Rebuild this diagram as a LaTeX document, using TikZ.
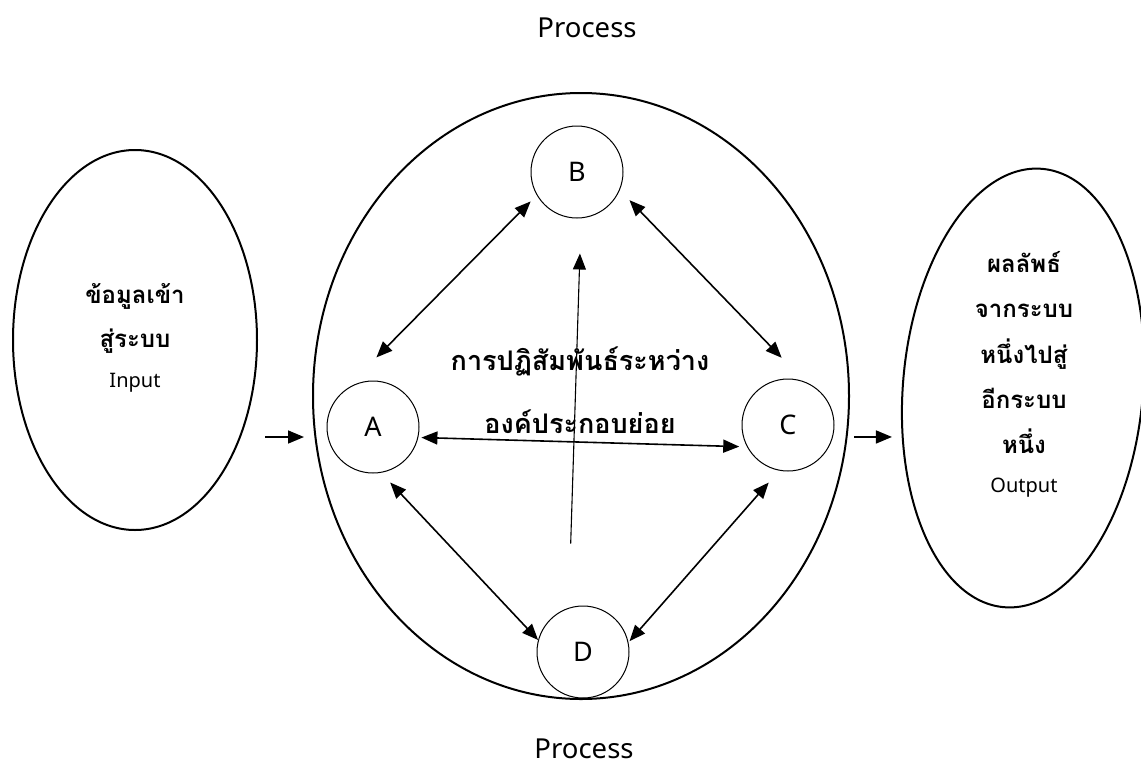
\documentclass[tikz,border=0pt]{standalone}
\usepackage{fontspec}
\setmainfont{Noto Sans}
\newfontfamily\thaifont[Script=Thai]{Loma}
\usetikzlibrary{arrows.meta,shapes.geometric,calc}

\begin{document}
\begin{tikzpicture}[x=1pt,y=-1pt,
        >={Triangle[length=16pt,width=13pt]},
        big/.style={draw,ellipse,line width=2pt,inner sep=0pt},
        part/.style={draw,circle,line width=1pt,minimum size=92pt,inner sep=0pt,
            font=\fontsize{27}{30}\selectfont},
        link/.style={line width=1.6pt},
        thaiside/.style={anchor=base,font=\thaifont\bfseries\fontsize{24}{28}\selectfont},
        thaimid/.style={anchor=base,font=\thaifont\bfseries\fontsize{27}{31}\selectfont},
        eng/.style={anchor=base,font=\fontsize{20}{24}\selectfont},
        title/.style={anchor=base,font=\fontsize{27.5}{32}\selectfont}]
        \useasboundingbox (0,0) rectangle (1141,764);

        % the three systems
        \node[big,minimum width=244pt,minimum height=380pt] (inp) at (135,340) {};
        \node[big,minimum width=536pt,minimum height=606pt] (proc) at (581,396) {};
        \node[big,minimum width=240pt,minimum height=440pt,rotate=-5] (outp) at (1023,388) {};

        % sub parts
        \node[part] (A) at (373,427) {A};
        \node[part] (B) at (577,172) {B};
        \node[part] (C) at (788,425) {C};
        \node[part] (D) at (583,652) {D};

        \node[title] (ptop) at (587,37) {Process};
        \node[title] (pbot) at (584,758) {Process};

        \node[thaiside] (in1) at (135,303) {ข้อมูลเข้า};
        \node[thaiside] (in2) at (135,347) {สู่ระบบ};
        \node[eng] (in3) at (135,387) {Input};

        \node[thaiside] (out1) at (1024,272) {ผลลัพธ์};
        \node[thaiside] (out2) at (1024,317) {จากระบบ};
        \node[thaiside] (out3) at (1024,363) {หนึ่งไปสู่};
        \node[thaiside] (out4) at (1024,408) {อีกระบบ};
        \node[thaiside] (out5) at (1024,453) {หนึ่ง};
        \node[eng] (out6) at (1024,492) {Output};

        \node[thaimid] (mid1) at (580,370) {การปฏิสัมพันธ์ระหว่าง};
        \node[thaimid] (mid2) at (580,433) {องค์ประกอบย่อย};

        % links between the parts
        \draw[link,<->,shorten <=51.6pt,shorten >=8.7pt] (A.135) -- (B.210);
        \draw[link,<->,shorten <=13.9pt,shorten >=33.1pt] (B.337) -- (C.69.6);
        \draw[link,<->,shorten <=3.1pt,shorten >=7.7pt] (A.347.6) -- (C.208.8);
        \draw[link,<->,shorten <=13.3pt] (A.280) -- (D.165);
        \draw[link,<->,shorten <=15.8pt,shorten >=1.6pt] (C.259.3) -- (D.12.6);
        \draw[line width=1.1pt,->,shorten <=64.2pt,shorten >=35.2pt] (D.108) -- (B.275);

        % input and output
        \draw[link,->] ($(inp.east)+(7,97)$) -- ($(proc.west)+(-8,41)$);
        \draw[link,->] ($(proc.east)+(4,41)$) -- ($(outp.west)+(-10.5,59.5)$);
    \end{tikzpicture}
\end{document}
